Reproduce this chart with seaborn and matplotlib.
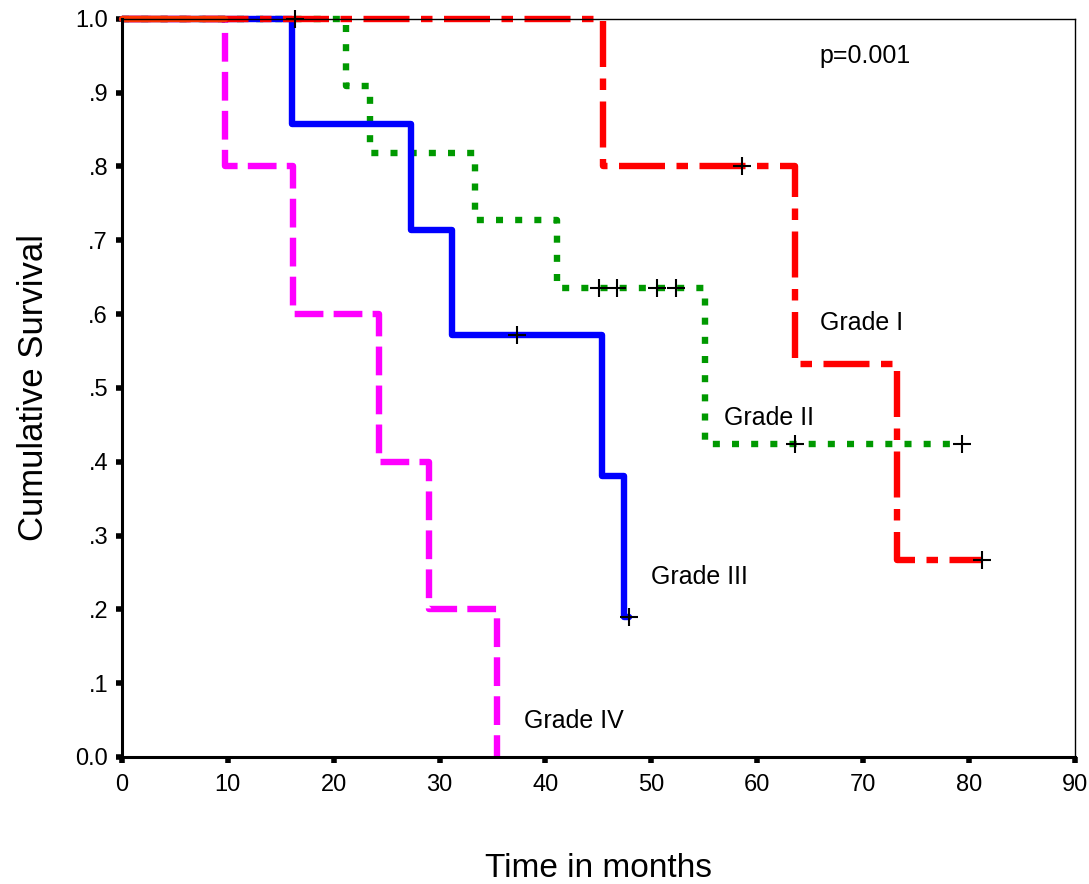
import numpy as np
import pandas as pd
import matplotlib
matplotlib.use("Agg")
import matplotlib.pyplot as plt
import seaborn as sns

sns.set_style("white")
plt.rcParams["font.family"] = ["Liberation Sans", "DejaVu Sans"]
plt.rcParams["text.color"] = "black"
plt.rcParams["axes.labelcolor"] = "black"
plt.rcParams["xtick.color"] = "black"
plt.rcParams["ytick.color"] = "black"

# ------------------------------
# Kaplan-Meier step data
# ------------------------------
g1_t = [0, 45.4, 63.6, 73.2, 81.2]
g1_s = [1.0, 0.800, 0.533, 0.267, 0.267]
g1_cens_t = [58.6, 81.2]
g1_cens_s = [0.800, 0.267]

g2_t = [0, 21.2, 23.4, 33.3, 41.1, 55.1, 79.3]
g2_s = [1.0, 0.909, 0.818, 0.727, 0.636, 0.424, 0.424]
g2_cens_t = [45.1, 46.8, 50.5, 52.3, 63.6, 79.3]
g2_cens_s = [0.636, 0.636, 0.636, 0.636, 0.424, 0.424]

g3_t = [0, 16.1, 27.3, 31.2, 45.3, 47.4, 47.9]
g3_s = [1.0, 0.857, 0.714, 0.571, 0.381, 0.190, 0.190]
g3_cens_t = [16.3, 37.3, 47.9]
g3_cens_s = [1.0, 0.571, 0.190]

g4_t = [0, 9.7, 16.2, 24.3, 29.0, 35.4]
g4_s = [1.0, 0.8, 0.6, 0.4, 0.2, 0.0]

x_ticks = [0, 10, 20, 30, 40, 50, 60, 70, 80, 90]
y_ticks = [0.0, 0.1, 0.2, 0.3, 0.4, 0.5, 0.6, 0.7, 0.8, 0.9, 1.0]
y_tick_labels = ["0.0", ".1", ".2", ".3", ".4", ".5", ".6", ".7", ".8", ".9", "1.0"]

labels = ["Grade I", "Grade II", "Grade III", "Grade IV"]
label_t = [65.9, 56.9, 50.0, 38.0]
label_s = [0.588, 0.459, 0.244, 0.049]

fig = plt.figure(figsize=(10.89, 8.84), dpi=100)
ax = fig.add_axes([0.112, 0.1437, 0.875, 0.835])

LW = 4.6


def km_line(t, s, color, dashes=None, lw=LW):
    sns.lineplot(x=t, y=s, drawstyle="steps-post", estimator=None, sort=False,
                 color=color, linewidth=lw, ax=ax, clip_on=False)
    line = ax.lines[-1]
    if dashes is not None:
        line.set_dashes(dashes)
    return line


# drawing order: magenta, green, blue, red
km_line(g4_t, g4_s, "#ff00ff", dashes=(4.5, 1.6))
km_line(g2_t, g2_s, "#009900", dashes=(1.1, 1.9))
km_line(g3_t, g3_s, "#0000ff")
km_line(g1_t, g1_s, "#ff0000", dashes=(7.2, 1.8, 1.8, 1.8))

# common segment where all curves overlap
first_event = min(g1_t[1], g2_t[1], g3_t[1], g4_t[1])
sns.lineplot(x=[0, first_event], y=[g1_s[0], g1_s[0]], color="#ff3300",
             linewidth=LW, ax=ax, clip_on=False)

cens = pd.DataFrame({
    "t": g1_cens_t + g2_cens_t + g3_cens_t,
    "s": g1_cens_s + g2_cens_s + g3_cens_s,
})
sns.scatterplot(data=cens, x="t", y="s", marker="+", s=150, color="black",
                linewidth=1.5, ax=ax, zorder=5, clip_on=False)

for lab, tx, sy in zip(labels, label_t, label_s):
    ax.text(tx, sy, lab, fontsize=18, ha="left", va="center")
ax.text(65.9, 0.949, "p=0.001", fontsize=18, ha="left", va="center")

ax.set_xlim(0, 90)
ax.set_ylim(0, 1.0)
ax.set_xticks(x_ticks)
ax.set_yticks(y_ticks)
ax.set_yticklabels(y_tick_labels)
ax.tick_params(axis="both", which="major", direction="out", length=4,
               width=4, color="black", labelsize=17)
ax.tick_params(axis="x", pad=8)
ax.tick_params(axis="y", pad=6)
ax.xaxis.set_ticks_position("bottom")
ax.yaxis.set_ticks_position("left")

for side in ["left", "bottom"]:
    ax.spines[side].set_linewidth(2.2)
    ax.spines[side].set_color("black")
for side in ["top", "right"]:
    ax.spines[side].set_linewidth(1.0)
    ax.spines[side].set_color("black")

ax.set_xlabel("Time in months", fontsize=24, labelpad=41)
ax.set_ylabel("Cumulative Survival", fontsize=25, labelpad=18)

fig.savefig("out.png", dpi=100)
